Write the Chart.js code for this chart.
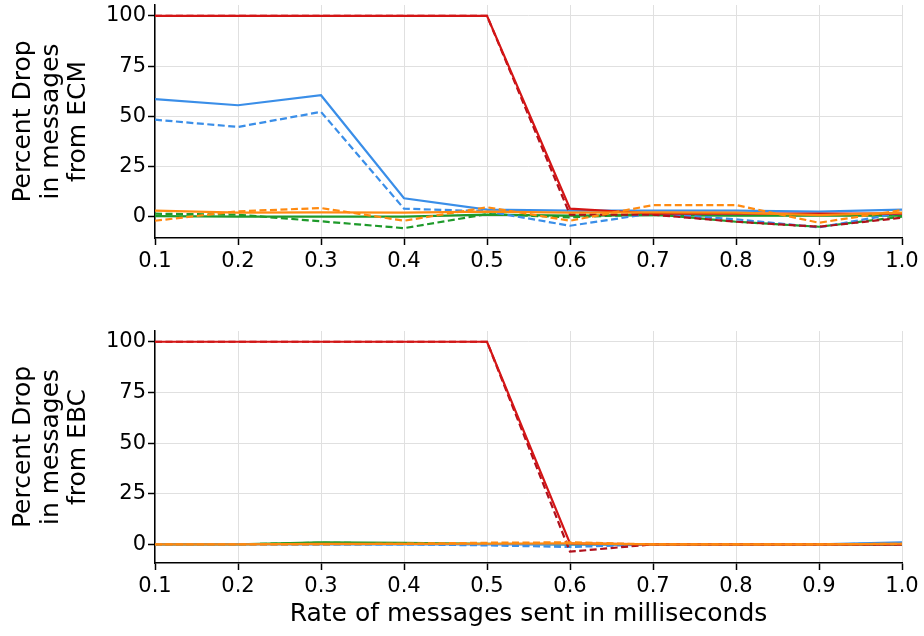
<!DOCTYPE html>
<html>
<head>
<meta charset="utf-8">
<script src="https://cdn.jsdelivr.net/npm/chart.js@4/dist/chart.umd.min.js"></script>
<style>
  html,body{margin:0;padding:0;background:#fff;overflow:hidden;}
  #wrap{position:relative;width:924px;height:636px;overflow:hidden;}
  canvas{position:absolute;left:0;}
</style>
</head>
<body>
<div id="wrap">
  <canvas id="c1" width="924" height="310" style="top:-20px"></canvas>
  <canvas id="c2" width="924" height="336" style="top:300px"></canvas>
</div>
<script>
// x categories (rate of messages sent, ms)
const rates = ['0.1','0.2','0.3','0.4','0.5','0.6','0.7','0.8','0.9','1.0'];
const yTickValues = [0, 25, 50, 75, 100];

// Top panel: percent drop in messages from ECM
const ecmRedSolid     = [100, 100, 100, 100, 100, 4, 1.5, 1.5, 1.5, 1.5];
const ecmRedDashed    = [100, 100, 100, 100, 100, 1, 1, -2.5, -5, -0.5];
const ecmBlueSolid    = [58.5, 55.5, 60.5, 9.2, 3.5, 3, 3, 3, 2.5, 3.5];
const ecmBlueDashed   = [48.3, 44.7, 52.2, 4, 2.7, -4.5, 1.7, -1.3, -5.3, 2];
const ecmOrangeSolid  = [3, 2, 2.2, 2, 2.5, 2, 2.2, 2, 0.8, 2];
const ecmOrangeDashed = [-2, 2.7, 4.3, -2, 4.7, -2, 5.8, 5.8, -3, 3.3];
const ecmGreenSolid   = [0.3, 0, 0, 0, 1, 0.5, 0.8, 0.5, 0.5, 0.5];
const ecmGreenDashed  = [1.5, 1, -2.3, -5.7, 1.3, -0.3, 1.3, -2.5, -5, 0];

// Bottom panel: percent drop in messages from EBC
const ebcRedSolid     = [100, 100, 100, 100, 100, 0.5, 0, 0, 0, 0];
const ebcRedDashed    = [100, 100, 100, 100, 100, -3.6, 0, 0, 0, 0];
const ebcBlueSolid    = [0, 0, 0, 0, 0, 0, 0, 0, 0, 1];
const ebcBlueDashed   = [0, 0, 0, 0, -0.5, -1.3, 0, 0, 0, 0.5];
const ebcOrangeSolid  = [0, 0, 0.2, 0.2, 0.3, 0.5, 0, 0, 0, 0.3];
const ebcOrangeDashed = [0, 0, 0, 0.3, 0.8, 1, 0, 0, 0, 0.3];
const ebcGreenSolid   = [0, 0, 1, 0.7, 0.3, 0, 0, 0, 0, 0];
const ebcGreenDashed  = [0, 0, 0.8, 0.5, 0.2, 0, 0, 0, 0, 0];

const C = {
  red: '#d41515', darkred: '#b0101c', blue: '#3a8ee8',
  orange: '#ff8a10', green: '#1e9a2a'
};
const DASH = [7, 3.5];
const FONT = "'DejaVu Sans', sans-serif";

function ds(data, color, dashed) {
  return {
    data: data, borderColor: color, backgroundColor: color,
    borderWidth: 2.2, borderDash: dashed ? DASH : [],
    pointRadius: 0, tension: 0, fill: false
  };
}

function makeChart(id, sets, cfg) {
  return new Chart(document.getElementById(id), {
    type: 'line',
    data: {
      labels: rates,
      datasets: [
        ds(sets.orangeS, C.orange, false),
        ds(sets.orangeD, C.orange, true),
        ds(sets.redS, C.red, false),
        ds(sets.redD, C.darkred, true),
        ds(sets.blueS, C.blue, false),
        ds(sets.blueD, C.blue, true),
        ds(sets.greenS, C.green, false),
        ds(sets.greenD, C.green, true)
      ]
    },
    options: {
      responsive: false,
      animation: false,
      devicePixelRatio: 1,
      layout: { padding: { top: cfg.padTop, right: 22, left: 0, bottom: 0 } },
      plugins: { legend: { display: false }, tooltip: { enabled: false } },
      scales: {
        x: {
          type: 'category',
          offset: false,
          grid: { color: '#e0e0e0', lineWidth: 1, tickColor: '#000', tickLength: 7, tickWidth: 1.5 },
          border: { display: true, color: '#000', width: 1.5 },
          ticks: { color: '#000', font: { family: FONT, size: 21 }, padding: cfg.xTickPad, maxRotation: 0, autoSkip: false },
          title: cfg.xTitle ? { display: true, text: cfg.xTitle, color: '#000', font: { family: FONT, size: 25 }, padding: { top: 0, bottom: 7 } } : { display: false },
          afterFit: function (s) { s.height = cfg.xHeight; }
        },
        y: {
          type: 'linear',
          min: cfg.ymin, max: cfg.ymax,
          afterBuildTicks: function (s) { s.ticks = yTickValues.map(v => ({ value: v })); },
          grid: { color: '#e0e0e0', lineWidth: 1, tickColor: '#000', tickLength: 7, tickWidth: 1.5 },
          border: { display: true, color: '#000', width: 1.5 },
          ticks: { color: '#000', font: { family: FONT, size: 21 }, padding: 2 },
          title: { display: true, text: cfg.yTitle, color: '#000', font: { family: FONT, size: 25, lineHeight: 1.1 }, padding: { top: 10, bottom: 0 } },
          afterFit: function (s) { s.width = 155; }
        }
      }
    }
  });
}

makeChart('c1', {
  redS: ecmRedSolid, redD: ecmRedDashed, blueS: ecmBlueSolid, blueD: ecmBlueDashed,
  orangeS: ecmOrangeSolid, orangeD: ecmOrangeDashed, greenS: ecmGreenSolid, greenD: ecmGreenDashed
}, { padTop: 25, xHeight: 52, xTickPad: 4, ymin: -10.6, ymax: 105.4, yTitle: ['Percent Drop', 'in messages', 'from ECM'], xTitle: null });

makeChart('c2', {
  redS: ebcRedSolid, redD: ebcRedDashed, blueS: ebcBlueSolid, blueD: ebcBlueDashed,
  orangeS: ebcOrangeSolid, orangeD: ebcOrangeDashed, greenS: ebcGreenSolid, greenD: ebcGreenDashed
}, { padTop: 31, xHeight: 73, xTickPad: 4, ymin: -9.2, ymax: 105.3, yTitle: ['Percent Drop', 'in messages', 'from EBC'], xTitle: 'Rate of messages sent in milliseconds' });
</script>
</body>
</html>
